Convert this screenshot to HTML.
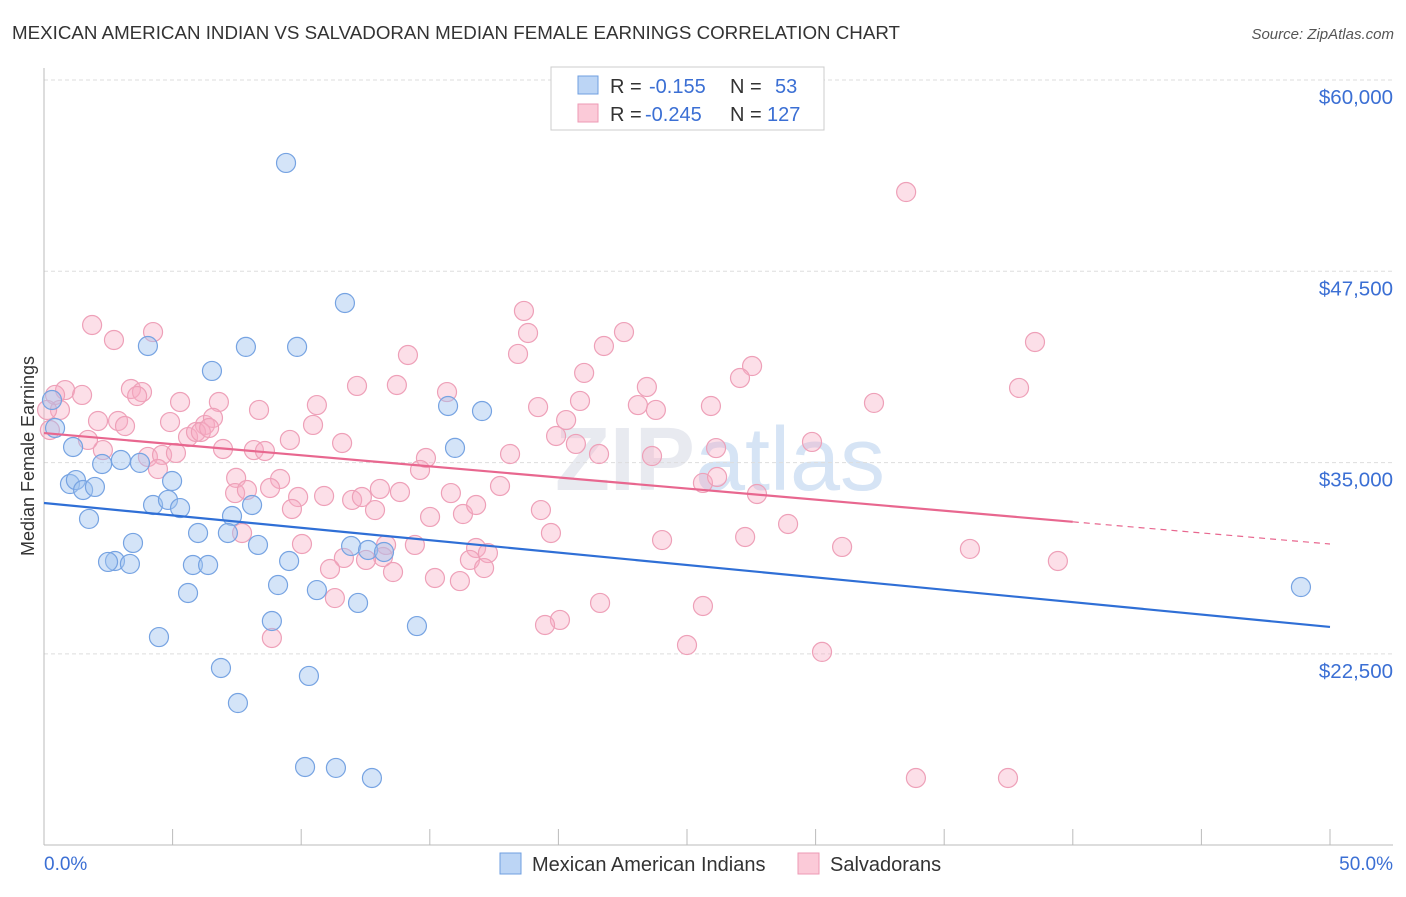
<!DOCTYPE html>
<html><head><meta charset="utf-8"><style>
body{margin:0;background:#fff;font-family:"Liberation Sans",sans-serif}
svg text{font-family:"Liberation Sans",sans-serif}
</style></head><body>
<svg id="c" width="1406" height="892" xmlns="http://www.w3.org/2000/svg">
<text x="12" y="39" font-size="18.5" fill="#333" textLength="888" lengthAdjust="spacingAndGlyphs">MEXICAN AMERICAN INDIAN VS SALVADORAN MEDIAN FEMALE EARNINGS CORRELATION CHART</text>
<text x="1394" y="39" font-size="15" fill="#555" font-style="italic" text-anchor="end">Source: ZipAtlas.com</text>
<text x="720" y="490" font-size="90" fill="#e8eaf0" text-anchor="middle" font-weight="bold">ZIP<tspan fill="#d6e4f5" font-weight="normal">atlas</tspan></text>
<g id="grid"></g><g id="pts"></g><g id="lines"></g>
<text transform="translate(34,456) rotate(-90)" font-size="18" fill="#333" text-anchor="middle">Median Female Earnings</text>
<text x="44" y="870" font-size="19" fill="#3b6fd4">0.0%</text>
<text x="1393" y="870" font-size="19" fill="#3b6fd4" text-anchor="end">50.0%</text>
<g>
<rect x="551" y="67" width="273" height="63" fill="#fff" stroke="#ccc"/>
<rect x="578" y="76" width="20" height="18" fill="#bcd5f5" stroke="#6f9fe0"/>
<rect x="578" y="104" width="20" height="18" fill="#fbcad8" stroke="#ee9ab4"/>
<text x="610" y="93" font-size="20" fill="#333">R = <tspan x="649" fill="#3b6fd4">-0.155</tspan><tspan x="730">N = </tspan><tspan x="775" fill="#3b6fd4">53</tspan></text>
<text x="610" y="121" font-size="20" fill="#333">R = <tspan x="645" fill="#3b6fd4">-0.245</tspan><tspan x="730">N = </tspan><tspan x="767" fill="#3b6fd4">127</tspan></text>
</g>
<g>
<rect x="500" y="853" width="21" height="21" fill="#bcd5f5" stroke="#6f9fe0"/>
<text x="532" y="871" font-size="20" fill="#333">Mexican American Indians</text>
<rect x="798" y="853" width="21" height="21" fill="#fbcad8" stroke="#ee9ab4"/>
<text x="830" y="871" font-size="20" fill="#333">Salvadorans</text>
</g>
</svg>
<script>
const yTicks=[60000,47500,35000,22500];
const yTickLabels=["$60,000","$47,500","$35,000","$22,500"];
const xTicks=[0,5,10,15,20,25,30,35,40,45,50];
const blueX=[9.41,11.70,4.04,7.85,9.84,6.53,15.71,17.03,0.31,0.43,1.13,15.98,2.26,2.99,3.73,1.01,1.24,1.52,1.98,4.98,4.24,4.82,5.29,8.09,1.75,7.31,5.99,7.15,3.46,8.32,2.76,2.49,3.34,5.79,6.38,9.53,11.94,12.60,13.22,9.10,10.61,5.60,12.21,8.86,14.50,4.47,6.88,10.30,7.54,10.15,11.35,12.75,48.87];
const blueY=[54.58,45.43,42.62,42.56,42.56,40.99,38.70,38.37,39.09,37.26,36.02,35.96,34.91,35.17,34.98,33.60,33.86,33.21,33.41,33.80,32.23,32.56,32.03,32.23,31.32,31.51,30.40,30.40,29.75,29.62,28.57,28.51,28.38,28.31,28.31,28.57,29.55,29.29,29.16,27.00,26.67,26.48,25.83,24.65,24.32,23.60,21.58,21.06,19.29,15.11,15.05,14.39,26.87];
const pinkX=[33.52,1.87,4.24,18.66,18.82,22.55,21.77,18.43,14.15,2.72,38.53,27.53,27.06,21.00,37.91,23.44,15.67,13.72,12.17,3.38,3.81,3.62,0.82,0.43,1.48,0.62,5.29,6.80,8.36,10.61,19.21,20.84,23.09,23.79,25.93,32.27,2.10,2.88,3.15,4.90,6.26,6.57,5.60,5.91,6.10,6.42,10.46,9.56,11.59,20.30,19.91,20.68,21.58,23.64,26.13,29.86,2.29,1.71,4.04,4.59,5.13,6.96,8.16,8.59,14.85,18.12,14.62,4.43,7.47,9.18,13.06,13.84,17.73,25.62,26.17,7.43,7.89,8.79,9.88,10.89,11.98,12.36,15.82,9.64,12.87,15.01,16.29,16.80,19.32,27.72,28.93,7.70,19.71,24.03,27.26,31.03,36.00,13.30,14.42,16.80,17.26,10.03,11.66,13.18,12.52,16.56,17.11,11.12,13.57,15.20,16.17,39.42,11.31,21.62,25.62,20.06,19.48,8.86,25.00,30.25,33.90,37.48,0.12,0.23];
const pinkY=[52.68,43.99,43.53,44.91,43.47,43.53,42.62,42.10,42.03,43.01,42.88,41.31,40.53,40.86,39.88,39.94,39.61,40.07,40.01,39.81,39.61,39.35,39.74,39.42,39.42,38.44,38.96,38.96,38.44,38.76,38.63,39.03,38.76,38.44,38.70,38.90,37.72,37.72,37.39,37.65,37.46,37.92,36.67,37.00,37.00,37.26,37.46,36.48,36.28,37.78,36.74,36.22,35.56,35.43,35.95,36.35,35.82,36.48,35.37,35.50,35.63,35.89,35.82,35.76,35.30,35.56,34.52,34.58,34.00,33.93,33.28,33.08,33.47,33.67,34.06,33.01,33.21,33.34,32.75,32.82,32.56,32.75,33.01,31.97,31.90,31.45,31.64,32.23,31.90,32.95,30.99,30.40,30.40,29.94,30.14,29.49,29.36,29.62,29.62,29.42,29.09,29.68,28.77,28.83,28.64,28.64,28.11,28.05,27.85,27.46,27.26,28.57,26.15,25.83,25.63,24.72,24.39,23.54,23.08,22.63,14.39,14.39,38.44,37.13];
const blueTrend=[32.36,24.26];
const pinkTrend=[36.93,29.68];
const xs=p=>44+p*25.72;
const ys=v=>80+(60000-v)*0.015304;
const NS="http://www.w3.org/2000/svg";
function mk(t,a,parent){const e=document.createElementNS(NS,t);for(const k in a)e.setAttribute(k,a[k]);parent.appendChild(e);return e;}
const grid=document.getElementById('grid');
yTicks.forEach((v,i)=>{
 const l=mk('line',{x1:44,x2:1393,y1:ys(v),y2:ys(v),stroke:'#ddd','stroke-dasharray':'4,3'},grid);
 
 
 const t=mk('text',{x:1393,y:ys(v)+24,'font-size':20.5,fill:'#3b6fd4','text-anchor':'end'},grid);
 t.textContent=yTickLabels[i];
 
 
});
const ax=mk('line',{x1:44,x2:44,y1:68,y2:845,stroke:'#bbb'},grid);


const bx=mk('line',{x1:44,x2:1393,y1:845,y2:845,stroke:'#bbb'},grid);


xTicks.forEach(p=>{
 const t=mk('line',{x1:xs(p),x2:xs(p),y1:829,y2:845,stroke:'#bbb'},grid);
 
 
});
const pts=document.getElementById('pts');
pinkX.forEach((x,i)=>{
 const c=mk('circle',{cx:xs(x),cy:ys(pinkY[i]*1000),r:9.5,fill:'rgba(246,170,195,0.38)',stroke:'#eea0b8','stroke-width':1.2},pts);
 
 
});
blueX.forEach((x,i)=>{
 const c=mk('circle',{cx:xs(x),cy:ys(blueY[i]*1000),r:9.5,fill:'rgba(160,195,240,0.45)',stroke:'#76a3e2','stroke-width':1.2},pts);
 
 
});
const lines=document.getElementById('lines');
const b=mk('line',{x1:xs(0),y1:ys(blueTrend[0]*1000),x2:xs(50),y2:ys(blueTrend[1]*1000),stroke:'#2f6fd6','stroke-width':2.2},lines);


const pAt=p=>pinkTrend[0]+(pinkTrend[1]-pinkTrend[0])*p/50;
const p1=mk('line',{x1:xs(0),y1:ys(pAt(0)*1000),x2:xs(40),y2:ys(pAt(40)*1000),stroke:'#e8678f','stroke-width':2.2},lines);


const p2=mk('line',{x1:xs(40),y1:ys(pAt(40)*1000),x2:xs(50),y2:ys(pAt(50)*1000),stroke:'#e8678f','stroke-width':1.2,'stroke-dasharray':'6,5'},lines);


</script>
</body></html>
